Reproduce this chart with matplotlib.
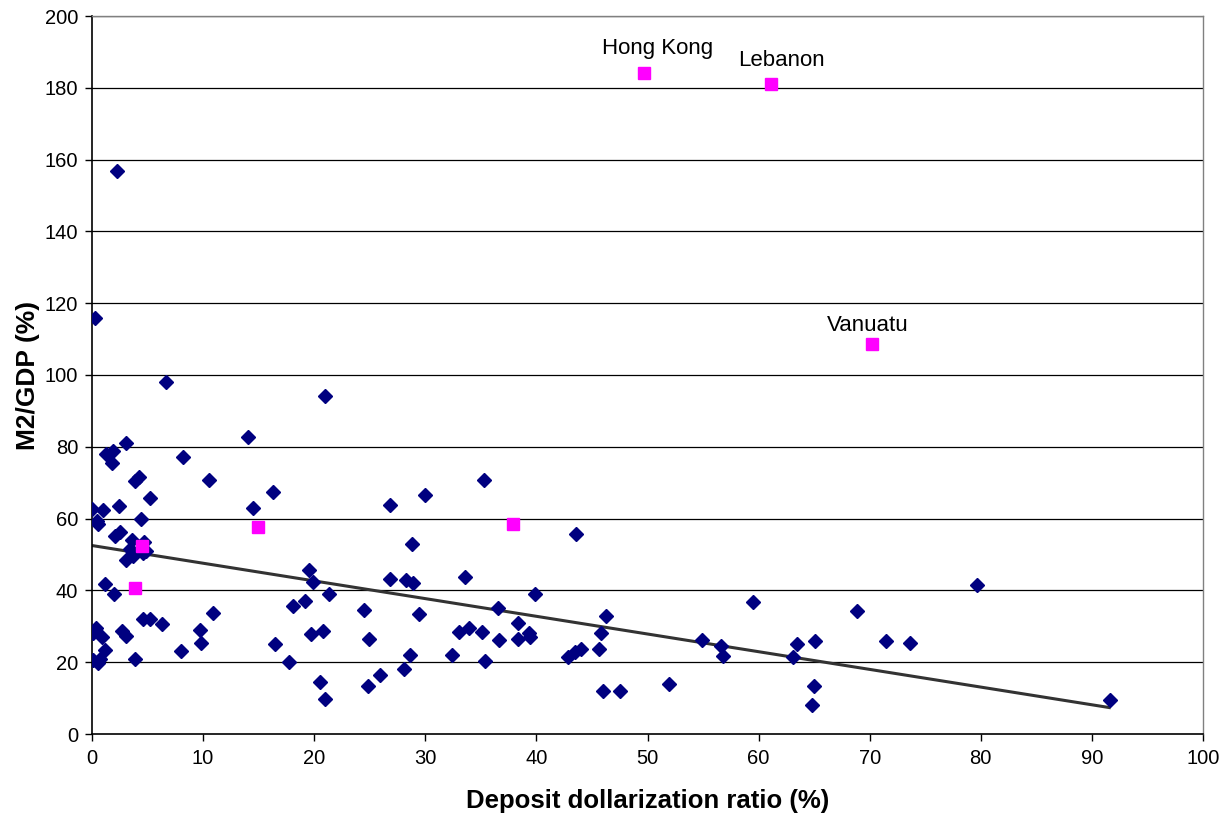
import matplotlib
matplotlib.use("Agg")
import matplotlib.pyplot as plt

plt.rcParams['font.family'] = ['Liberation Sans', 'DejaVu Sans']

# Blue diamonds: deposit dollarization ratio (%) vs M2/GDP (%)
blue_x = [0.27, 6.7, 3.1, 1.3, 1.9, 1.8, 14.0, 8.2, 3.9, 4.2, 10.5, 16.3, 5.2, 2.25, 21.0,
          0.03, 1.0, 2.4, 14.5, 0.48, 0.57, 4.4, 2.1, 2.5, 3.6, 4.7, 3.4, 4.9, 3.1, 3.7, 4.6,
          1.17, 1.98, 4.6, 5.2, 6.3, 10.85, 0.36, 0.12, 0.93, 2.67, 3.06, 9.7, 9.8, 1.17, 8.0,
          16.5, 0.1, 0.5, 0.7, 3.9, 17.7,
          26.8, 30.0, 28.8, 19.5, 19.9, 26.8, 28.3, 28.9, 33.6, 18.1, 19.2, 21.3, 24.5, 29.4,
          19.7, 20.8, 24.9, 33.0, 33.9, 28.6, 32.4, 28.1, 25.9, 20.5, 24.8, 21.0,
          35.3, 43.6, 39.9, 36.5, 38.3, 46.3, 35.1, 36.6, 38.3, 39.3, 39.4, 45.8, 35.4, 42.8,
          43.5, 44.0, 45.6, 45.95, 47.5, 59.5, 68.9, 54.9, 56.6, 56.8, 63.5, 65.1, 63.1, 71.5,
          51.9, 65.0, 64.8, 73.6, 79.7, 91.6]
blue_y = [116.0, 98.1, 81.1, 78.0, 78.9, 75.6, 82.6, 77.2, 70.6, 71.7, 70.8, 67.5, 65.6, 156.8, 94.1,
          62.7, 62.4, 63.5, 63.0, 59.4, 58.4, 60.0, 55.2, 56.3, 54.0, 53.6, 51.6, 51.1, 48.5, 49.6, 50.3,
          41.8, 39.1, 32.1, 31.9, 30.7, 33.8, 29.6, 28.0, 27.1, 28.7, 27.4, 29.0, 25.4, 23.4, 23.2,
          25.1, 20.6, 19.9, 20.9, 20.9, 20.0,
          63.9, 66.5, 52.8, 45.7, 42.4, 43.2, 42.9, 42.1, 43.7, 35.7, 37.1, 38.9, 34.5, 33.4,
          27.9, 28.7, 26.5, 28.3, 29.4, 22.0, 21.9, 18.1, 16.3, 14.6, 13.4, 9.7,
          70.8, 55.8, 39.0, 35.0, 30.8, 32.9, 28.5, 26.1, 26.5, 28.0, 26.9, 28.0, 20.4, 21.5,
          22.9, 23.6, 23.7, 12.0, 12.0, 36.9, 34.3, 26.2, 24.6, 21.7, 25.0, 25.9, 21.4, 25.9,
          13.9, 13.4, 8.0, 25.3, 41.5, 9.5]

# Magenta squares
pink_x = [49.7, 61.1, 70.2, 4.5, 3.9, 14.9, 37.9]
pink_y = [184.1, 181.1, 108.6, 52.4, 40.6, 57.7, 58.6]

# Labelled points
label_names = ["Hong Kong", "Lebanon", "Vanuatu"]
label_x = [50.9, 62.1, 69.8]
label_y = [191.0, 187.5, 113.7]

# Trend line endpoints
trend_x = [0.0, 91.7]
trend_y = [52.5, 7.3]

x_ticks = list(range(0, 101, 10))
y_ticks = list(range(0, 201, 20))

fig = plt.figure(figsize=(12.31, 8.16), dpi=100)
ax = fig.add_axes([92 / 1231, 1 - 734 / 816, (1203 - 92) / 1231, (734 - 16) / 816])

for yv in y_ticks[1:]:
    ax.axhline(yv, color='black', lw=0.9, zorder=1)

ax.plot(trend_x, trend_y, color='#333333', lw=2.2, zorder=2, solid_capstyle='butt')
ax.plot(blue_x, blue_y, linestyle='none', marker='D', ms=7, color='#000080',
        markeredgecolor='#000080', zorder=3)
ax.plot(pink_x, pink_y, linestyle='none', marker='s', ms=8, color='#FF00FF',
        markeredgecolor='#FF00FF', zorder=4)

for name, lx, ly in zip(label_names, label_x, label_y):
    ax.text(lx, ly, name, ha='center', va='center', fontsize=16, color='black', zorder=5)

ax.set_xlim(0, 100)
ax.set_ylim(0, 200)
ax.set_xticks(x_ticks)
ax.set_yticks(y_ticks)
ax.tick_params(axis='both', direction='out', length=5, width=1, labelsize=14.5, pad=5)
ax.tick_params(axis='x', pad=6)

for side in ['top', 'right']:
    ax.spines[side].set_color('#808080')
    ax.spines[side].set_linewidth(1)
for side in ['left', 'bottom']:
    ax.spines[side].set_color('black')
    ax.spines[side].set_linewidth(1.2)

ax.set_xlabel('Deposit dollarization ratio (%)', fontsize=18.5, fontweight='bold', labelpad=15)
ax.set_ylabel('M2/GDP (%)', fontsize=19, fontweight='bold', labelpad=3)

fig.savefig('out.png', dpi=100)
